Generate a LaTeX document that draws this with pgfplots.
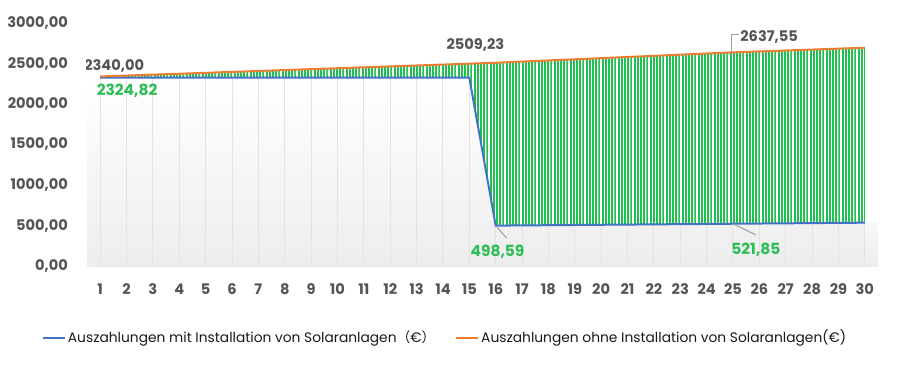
\documentclass[border=0pt]{standalone}
\usepackage{fontspec}
\setmainfont{Poppins}
\newfontfamily\cjk{Noto Sans CJK SC}
\usepackage{pgfplots}
\usepackage{pgfplotstable}
\pgfplotsset{compat=1.18}
\usepgfplotslibrary{fillbetween}
\usetikzlibrary{patterns.meta}
\definecolor{myblue}{HTML}{4472C4}
\definecolor{myorange}{HTML}{ED7D31}
\definecolor{mygreen}{HTML}{20C050}
\definecolor{labgreen}{HTML}{2DBE55}
\definecolor{ticktext}{HTML}{555555}
\definecolor{gridc}{HTML}{E3E3E3}
\definecolor{leadc}{HTML}{A0A0A0}

\tikzdeclarepattern{name=vstripes, type=uncolored,
  bounding box={(0pt,-1pt) and (1.6pt,201pt)},
  tile size={(1.6pt,200pt)},
  code={\pgfpathrectangle{\pgfpoint{0pt}{-1pt}}{\pgfpoint{1.0pt}{202pt}}\pgfusepath{fill}}}

\pgfplotstableread{
x y
1 2324.82
2 2324.82
3 2324.82
4 2324.82
5 2324.82
6 2324.82
7 2324.82
8 2324.82
9 2324.82
10 2324.82
11 2324.82
12 2324.82
13 2324.82
14 2324.82
15 2324.82
16 498.59
17 501.17
18 503.76
19 506.34
20 508.93
21 511.51
22 514.10
23 516.68
24 519.27
25 521.85
26 524.43
27 527.00
28 529.60
29 532.20
30 534.80
}\withsolar

\pgfplotstableread{
x y
1 2340.00
2 2351.28
3 2362.56
4 2373.85
5 2385.13
6 2396.41
7 2407.69
8 2418.97
9 2430.26
10 2441.54
11 2452.82
12 2464.10
13 2475.38
14 2486.67
15 2497.95
16 2509.23
17 2523.49
18 2537.75
19 2552.00
20 2566.26
21 2580.52
22 2594.78
23 2609.04
24 2623.29
25 2637.55
26 2649.00
27 2660.50
28 2672.00
29 2683.50
30 2695.00
}\withoutsolar

\begin{document}
\begin{tikzpicture}
\begin{axis}[
  at={(0,0)}, anchor=south west,
  scale only axis, width=395.5pt, height=121.5pt,
  xmin=0.5, xmax=30.5, ymin=0, ymax=3000,
  xtick={1,...,30}, ytick={0,500,...,3000},
  axis x line*=bottom, axis y line*=left,
  y axis line style={draw=none},
  x axis line style={draw=gridc, line width=0.6pt, -},
  major tick length=0pt,
  /pgf/number format/assume math mode=true,
  tick label style={font=\fontsize{7.3}{8}\selectfont\bfseries, text=ticktext},
  yticklabel style={xshift=-6pt, /pgf/number format/fixed, /pgf/number format/fixed zerofill, /pgf/number format/precision=2, /pgf/number format/use comma, /pgf/number format/1000 sep={}},
  xticklabel style={yshift=-5.4pt},
  legend style={at={(0.4526,-0.296)}, anchor=center, draw=none, fill=none,
    font=\fontsize{6.9}{8}\selectfont, text=black!90,
    /tikz/every even column/.append style={column sep=8.5pt},
    nodes={inner sep=1.2pt}},
  legend columns=2,
  legend image code/.code={\draw[#1, line width=1pt] (0pt,0pt) -- (11pt,0pt);},
]
% background shading under the blue curve
\addplot[draw=none, top color=white, bottom color=black!7, forget plot] table[x=x,y=y] {\withsolar} \closedcycle;
\fill[top color=white, bottom color=black!7] (axis cs:0.5,0) rectangle (axis cs:1,2324.82);
\fill[top color=black!3, bottom color=black!7] (axis cs:30,0) rectangle (axis cs:30.5,534.8);
% grid lines below the blue curve
\addplot[ycomb, draw=gridc, line width=0.5pt, no marks, forget plot] table[x=x,y=y] {\withsolar};
% the two series
\addplot[name path=blue, draw=myblue, line width=1pt, no marks] table[x=x,y=y] {\withsolar};
\addlegendentry{Auszahlungen mit Installation von Solaranlagen{\cjk （}€{\cjk ）}}
\addplot[name path=orange, draw=myorange, line width=1pt, no marks] table[x=x,y=y] {\withoutsolar};
\addlegendentry{Auszahlungen ohne Installation von Solaranlagen(€)}
\addplot[pattern={vstripes}, pattern color=mygreen, forget plot] fill between[of=orange and blue];
% data labels
\node[font=\fontsize{7.3}{8}\selectfont\bfseries, text=ticktext] at (axis cs:1.53,2469) {2340,00};
\node[font=\fontsize{7.7}{8}\selectfont\bfseries, text=labgreen] at (axis cs:2.02,2160) {2324,82};
\node[font=\fontsize{7.3}{8}\selectfont\bfseries, text=ticktext] at (axis cs:15.23,2728) {2509,23};
\draw[leadc, line width=0.5pt] (axis cs:16,498.59) -- (axis cs:16.41,346);
\node[font=\fontsize{7.7}{8}\selectfont\bfseries, text=labgreen] at (axis cs:16.07,173) {498,59};
\draw[leadc, line width=0.5pt] (axis cs:25,521.85) -- (axis cs:25.87,383);
\node[font=\fontsize{7.7}{8}\selectfont\bfseries, text=labgreen] at (axis cs:25.87,198) {521,85};
\draw[leadc, line width=0.5pt] (axis cs:24.95,2637.55) -- (axis cs:24.95,2852) -- (axis cs:25.23,2852);
\node[font=\fontsize{7.3}{8}\selectfont\bfseries, text=ticktext] at (axis cs:26.37,2831) {2637,55};
\end{axis}
\pgfresetboundingbox
\useasboundingbox (-43.5pt,-49.5pt) rectangle (406.5pt,133pt);
\end{tikzpicture}
\end{document}
